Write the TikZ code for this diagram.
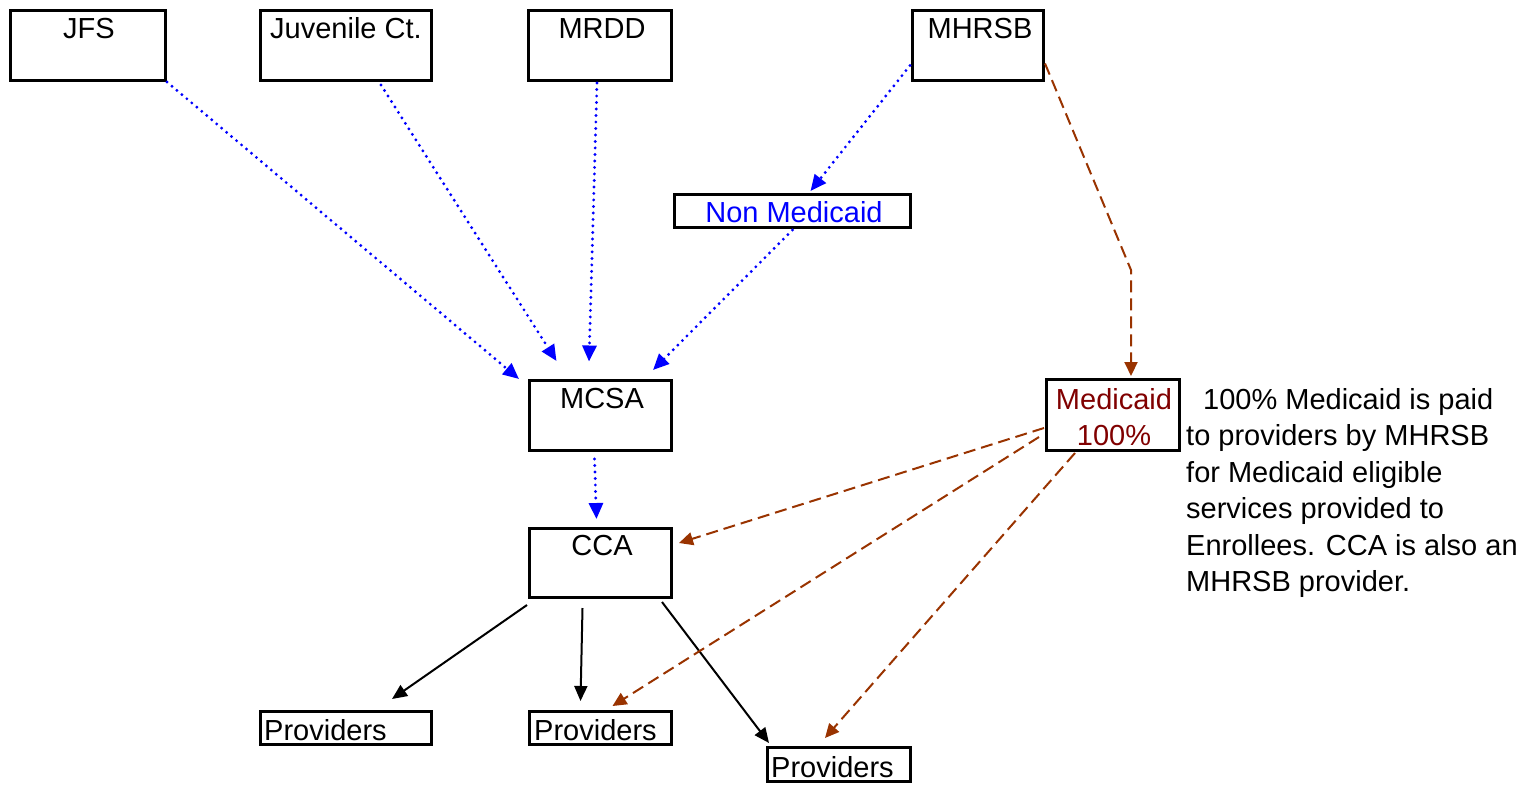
\documentclass[tikz,border=0pt]{standalone}
\usepackage{fontspec}
\setmainfont{Liberation Sans}
\usetikzlibrary{arrows.meta,calc}
\definecolor{dblue}{RGB}{0,0,255}
\definecolor{dbrown}{RGB}{153,51,0}
\definecolor{dred}{RGB}{128,0,0}
\begin{document}
\begin{tikzpicture}[x=1pt,y=-1pt,
  box/.style={draw,line width=3pt,inner sep=0pt,rectangle},
  lbl/.style={inner sep=0pt,anchor=base,font=\fontsize{29}{36.5}\selectfont},
  lbll/.style={lbl,anchor=base west},
  bluearr/.style={dblue,line width=3.2pt,line cap=round,dash pattern=on 0pt off 6.5pt,
    -{Triangle[length=16pt,width=14pt,line cap=butt]}},
  brownarr/.style={dbrown,line width=2pt,dash pattern=on 12pt off 6pt,
    -{Triangle[length=14pt,width=13pt]}},
  blackarr/.style={black,line width=2pt,-{Triangle[length=15pt,width=13pt]}}]
\useasboundingbox (0,0) rectangle (1526,785);
% boxes
\node[box,minimum width=155pt,minimum height=70pt] (jfs) at (88,45.5) {};
\node[box,minimum width=171pt,minimum height=70pt] (juv) at (346,45.5) {};
\node[box,minimum width=143pt,minimum height=70pt] (mrdd) at (600,45.5) {};
\node[box,minimum width=131pt,minimum height=70pt] (mhrsb) at (978,45.5) {};
\node[box,minimum width=236pt,minimum height=33pt] (nonmed) at (792.5,211) {};
\node[box,minimum width=142pt,minimum height=70pt] (mcsa) at (600.5,415.5) {};
\node[box,minimum width=142pt,minimum height=69pt] (cca) at (600.5,563) {};
\node[box,minimum width=133pt,minimum height=71pt] (med) at (1113,415) {};
\node[box,minimum width=171pt,minimum height=33pt] (p1) at (346,728) {};
\node[box,minimum width=142pt,minimum height=33pt] (p2) at (600.5,728) {};
\node[box,minimum width=143pt,minimum height=34pt] (p3) at (839,764.5) {};
% labels
\node[lbl] (jfst) at (89,38) {JFS};
\node[lbl] (juvt) at (346,38) {Juvenile Ct.};
\node[lbl] (mrddt) at (602,38) {MRDD};
\node[lbl] (mhrsbt) at (980,38) {MHRSB};
\node[lbl,text=dblue] (nonmedt) at (794,222) {Non Medicaid};
\node[lbl] (mcsat) at (602,408) {MCSA};
\node[lbl] (ccat) at (602,555) {CCA};
\node[lbl,text=dred] (medt1) at (1114,409) {Medicaid};
\node[lbl,text=dred] (medt2) at (1114,445) {100\%};
\node[lbll] (p1t) at (264,740) {Providers};
\node[lbll] (p2t) at (534,740) {Providers};
\node[lbll] (p3t) at (771,777) {Providers};
\node[lbl,anchor=north west,align=left] (note) at (1186,388)
  {\hspace*{17pt}100\% Medicaid is paid\\to providers by MHRSB\\for Medicaid eligible\\services provided to\\Enrollees. CCA is also an\\MHRSB provider.};
% blue dotted
\draw[bluearr] (jfs.south east) -- ($(mcsa.north west)+(-9,0)$);
\draw[bluearr] ($(juv.south)+(35,3)$) -- ($(mcsa.north)+(-44,-18)$);
\draw[bluearr] ($(mrdd.south)+(-3,1)$) -- ($(mcsa.north)+(-11.5,-17.5)$);
\draw[bluearr] ($(mhrsb.west)+(-1,20)$) -- ($(nonmed.north)+(18,-2)$);
\draw[bluearr] ($(nonmed.south)+(0,1)$) -- ($(mcsa.north east)+(-20,-9)$);
\draw[bluearr] ($(mcsa.south)+(-6,7)$) -- ($(cca.north)+(-4,-8)$);
% black
\draw[blackarr] ($(cca.south west)+(-1,6)$) -- ($(p1.north)+(46,-11)$);
\draw[blackarr] ($(cca.south)+(-18,9)$) -- ($(p2.north)+(-20,-9)$);
\draw[blackarr] ($(cca.south east)+(-11,3)$) -- ($(p3.north west)+(3,-3)$);
% brown dashed
\coordinate (bend) at ($(med.north)+(18,-108)$);
\draw[brownarr] ($(mhrsb.east)+(0,18)$) -- (bend) -- ($(med.north)+(18,-2)$);
\draw[brownarr] ($(med.west)+(-1,13)$) -- ($(cca.east)+(6,-20)$);
\draw[brownarr] ($(med.west)+(-6,22)$) -- ($(p2.north)+(12,-4)$);
\draw[brownarr] ($(med.south)+(-38,1)$) -- ($(p3.north)+(-14,-8)$);
\end{tikzpicture}
\end{document}
